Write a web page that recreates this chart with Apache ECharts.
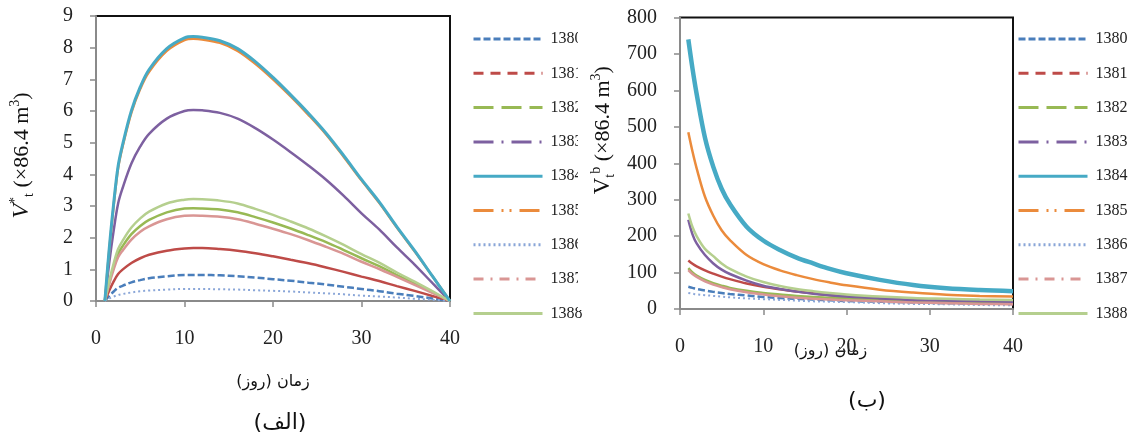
<!DOCTYPE html>
<html>
<head>
<meta charset="utf-8">
<script src="https://cdn.jsdelivr.net/npm/echarts@6/dist/echarts.min.js"></script>
<style>
html,body{margin:0;padding:0;background:#fff;}
#c{width:1129px;height:443px;}
</style>
</head>
<body>
<div id="c"></div>
<script>
// ---------- data ----------
const years = ['1380','1381','1382','1383','1384','1385','1386','1387','1388'];

// left panel (الف): time (days)
const tLeft = [1,1.5,2,2.5,3,4,5,6,8,10,11,12,14,16,18,20,22,24,26,28,30,32,34,36,38,40];
const left1380 = [0,0.16,0.30,0.42,0.48,0.59,0.66,0.72,0.78,0.82,0.82,0.82,0.81,0.78,0.74,0.69,0.64,0.58,0.52,0.45,0.38,0.31,0.23,0.16,0.08,0];
const left1381 = [0,0.33,0.62,0.85,0.99,1.20,1.35,1.46,1.59,1.66,1.67,1.67,1.64,1.59,1.51,1.41,1.30,1.19,1.06,0.92,0.77,0.63,0.47,0.32,0.16,0];
const left1382 = [0,0.59,1.08,1.49,1.73,2.11,2.37,2.56,2.80,2.92,2.93,2.92,2.89,2.80,2.65,2.48,2.29,2.08,1.86,1.61,1.35,1.10,0.82,0.56,0.28,0];
const left1383 = [0,1.21,2.23,3.08,3.56,4.34,4.88,5.28,5.76,6.00,6.03,6.02,5.94,5.76,5.46,5.10,4.70,4.28,3.83,3.32,2.77,2.26,1.69,1.15,0.57,0];
const left1384 = [0,1.67,3.09,4.26,4.93,6.01,6.76,7.31,7.97,8.31,8.35,8.33,8.22,7.97,7.56,7.06,6.51,5.93,5.30,4.59,3.84,3.13,2.34,1.59,0.79,0];
const left1385 = [0,1.62,3.02,4.20,4.87,5.95,6.70,7.24,7.90,8.24,8.28,8.26,8.15,7.90,7.49,7.00,6.46,5.88,5.26,4.55,3.81,3.10,2.32,1.57,0.79,0];
const left1386 = [0,0.08,0.14,0.19,0.22,0.27,0.31,0.33,0.36,0.38,0.38,0.38,0.37,0.36,0.34,0.32,0.30,0.27,0.24,0.21,0.17,0.14,0.11,0.07,0.04,0];
const left1387 = [0,0.54,1.00,1.38,1.59,1.94,2.19,2.36,2.58,2.69,2.70,2.69,2.66,2.58,2.44,2.28,2.11,1.92,1.71,1.49,1.24,1.01,0.76,0.51,0.26,0];
const left1388 = [0,0.64,1.19,1.64,1.90,2.32,2.61,2.82,3.08,3.20,3.22,3.21,3.17,3.08,2.91,2.72,2.51,2.29,2.04,1.77,1.48,1.21,0.90,0.61,0.31,0];
const leftValues = [left1380,left1381,left1382,left1383,left1384,left1385,left1386,left1387,left1388];

// right panel (ب)
const tRight = [1,1.5,2,3,4,5,6,8,10,12,14,16,18,20,24,28,32,36,40];
const right1380 = [61,58,55,51,47,44,41,37,33,30,28,26,24,22,20,18,16,15,14];
const right1381 = [133,124,117,106,97,89,82,70,61,54,48,43,38,34,28,23,19,16,14];
const right1382 = [112,100,92,80,71,64,58,50,44,40,36,33,31,29,26,23,21,19,18];
const right1383 = [245,205,180,148,125,108,96,78,64,55,48,42,38,34,29,25,23,21,20];
const right1384 = [740,660,590,470,390,330,288,226,188,162,141,125,110,98,80,66,57,52,49];
const right1385 = [485,432,386,308,256,216,189,148,123,106,93,82,73,65,53,45,39,36,34];
const right1386 = [44,42,40,38,36,34,32,29,27,25,23,21,20,19,16,14,13,11,10];
const right1387 = [107,96,88,76,67,60,54,46,40,35,31,28,26,24,21,18,16,14,13];
const right1388 = [262,225,200,165,145,125,110,89,74,63,55,49,44,40,34,30,28,26,25];
const rightValues = [right1380,right1381,right1382,right1383,right1384,right1385,right1386,right1387,right1388];

const xTicks = [0,10,20,30,40];

// ---------- styles ----------
const colors = ['#4A7EBB','#BE4B48','#98B954','#7D60A0','#46AAC5','#EB8B3C','#8AA6D8','#D99694','#B5CF8E'];
const legendDashes = [[7,3],[10,7],[20,8],[20,8,2,8],'solid',[20,8,2,6,2,8],[2,3],[10,7,2,7],'solid'];
const plotDashes = [[7,3],'solid','solid','solid','solid','solid',[2,3],'solid','solid'];
const widthsL = [2.5,2.5,2.5,2.5,3,2.5,2,2.5,2.5];
const widthsR = [2.5,2.5,2.5,2.5,4.5,2.5,2,2.5,2.5];

const serif = 'Liberation Serif';
const persian = 'DejaVu Sans';

function mkSeries(vals, ts, axis, widths){
  return years.map((y,i)=>({
    name: y, type:'line', xAxisIndex: axis, yAxisIndex: axis,
    data: ts.map((t,j)=>[t, vals[i][j]]),
    symbol:'none', smooth:0.35,
    lineStyle:{color:colors[i], width:widths[i], type:plotDashes[i]},
    itemStyle:{color:colors[i]},
    z: i===4 ? 3 : 2
  }));
}

const nameRich = {
  v:{fontFamily:serif,fontSize:24,fontStyle:'italic',lineHeight:28,color:'#111'},
  vr:{fontFamily:serif,fontSize:23,lineHeight:28,color:'#111'},
  sup:{fontFamily:serif,fontSize:14,lineHeight:13,verticalAlign:'top',color:'#111'},
  sub:{fontFamily:serif,fontSize:14,lineHeight:13,verticalAlign:'bottom',color:'#111'},
  n:{fontFamily:serif,fontSize:22,lineHeight:28,color:'#111'}
};

function yAxis(grid, max, interval, name, gap, pad){
  return {
    type:'value', gridIndex:grid, min:0, max:max, interval:interval,
    name:name, nameLocation:'middle', nameGap:gap, nameMoveOverlap:false,
    nameTextStyle:{rich:nameRich, padding:pad},
    axisLine:{show:true,lineStyle:{color:'#8a8a8a',width:2}},
    axisTick:{show:true,length:6,lineStyle:{color:'#8a8a8a',width:1.5}},
    axisLabel:{fontFamily:serif,fontSize:20,color:'#222',margin:23},
    splitLine:{show:false}
  };
}
function xAxis(grid, name, gap, pad, margin){
  return {
    type:'value', gridIndex:grid, min:0, max:40, interval:10,
    name:name, nameLocation:'middle', nameGap:gap, nameMoveOverlap:false,
    nameTextStyle:{fontFamily:persian,fontSize:16,color:'#111',padding:pad},
    axisLine:{show:true,lineStyle:{color:'#8a8a8a',width:2}},
    axisTick:{show:true,length:6,lineStyle:{color:'#8a8a8a',width:1.5}},
    axisLabel:{fontFamily:serif,fontSize:20,color:'#222',margin:margin,
      formatter:v=>xTicks.indexOf(v)>=0?String(v):''},
    splitLine:{show:false}
  };
}
function legend(left){
  return {
    orient:'vertical', left:left, top:31, padding:0,
    itemWidth:69, itemHeight:14, itemGap:18.3,
    data:years.map((y,i)=>({name:y, lineStyle:{type:legendDashes[i], width:3}})),
    itemStyle:{opacity:0},
    textStyle:{fontFamily:serif,fontSize:16,color:'#222',padding:[0,0,0,3]}
  };
}

const chart = echarts.init(document.getElementById('c'), null, {renderer:'canvas'});
chart.setOption({
  backgroundColor:'#fff',
  animation:false,
  grid:[
    {left:96,right:679,top:16,bottom:142,show:true,borderColor:'#111',borderWidth:2,containLabel:false,outerBoundsMode:'none'},
    {left:680,right:116,top:17.5,bottom:134,show:true,borderColor:'#111',borderWidth:2,containLabel:false,outerBoundsMode:'none'}
  ],
  xAxis:[ xAxis(0,'زمان (روز)',73,[0,0,0,0],28), xAxis(1,'زمان (روز)',34,[0,32,0,0],28) ],
  yAxis:[
    yAxis(0,9,1,'{v|V}{sup|*}{sub|t}{n| (×86.4 m}{sup|3}{n|)}',60,[0,0,0,6]),
    yAxis(1,800,100,'{vr|V}{sub|t}{sup|b}{n| (×86.4 m}{sup|3}{n|)}',63,[0,0,0,66])
  ],
  legend:[ legend(472), legend(1017) ],
  title:[
    {text:'(الف)',left:275,top:407,textAlign:'center',textStyle:{fontFamily:persian,fontSize:22,fontWeight:'normal',color:'#111'}},
    {text:'(ب)',left:862,top:385,textAlign:'center',textStyle:{fontFamily:persian,fontSize:22,fontWeight:'normal',color:'#111'}}
  ],
  graphic:[
    {type:'rect',shape:{x:578,y:20,width:8,height:290},style:{fill:'#fff'},z:100}
  ],
  series: mkSeries(leftValues,tLeft,0,widthsL).concat(mkSeries(rightValues,tRight,1,widthsR))
});
</script>
</body>
</html>
